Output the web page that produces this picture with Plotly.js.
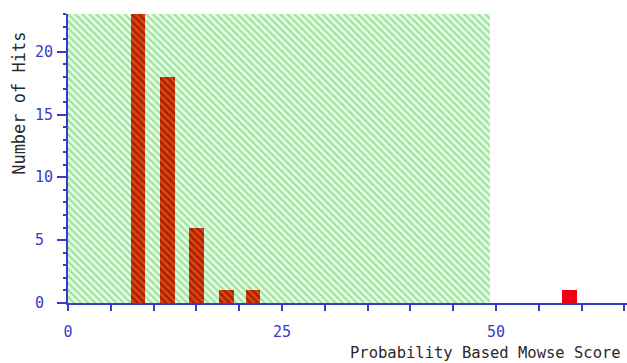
<!DOCTYPE html>
<html>
<head>
<meta charset="utf-8">
<script src="https://cdn.plot.ly/plotly-3.0.1.min.js"></script>
<style>html,body{margin:0;padding:0;background:#fff;}#chart{width:627px;height:363px;}</style>
</head>
<body>
<div id="chart"></div>
<script>
// Histogram of hits by score (bin centres)
const binCenters = [8.2, 11.6, 15.0, 18.5, 21.6];
const binCounts = [23, 18, 6, 1, 1];
const topHitScore = [58.6];
const topHitCount = [1];
const barWidth = 1.7;
// Shaded (non-significant) region: scores below threshold
const threshold = 49.3;
const regionHeight = 23;
const xTickVals = [0, 25, 50];
const yTickVals = [0, 5, 10, 15, 20];

const axisBlue = '#3a3acb';
const mono = 'DejaVu Sans Mono, monospace';

const traces = [
  {
    type: 'bar',
    x: [threshold / 2], y: [regionHeight], width: [threshold],
    marker: {color: '#e6fae6', line: {width: 0},
      pattern: {shape: '\\', fgcolor: '#9be69b', bgcolor: '#e8fae8', size: 5, solidity: 0.45}},
    hoverinfo: 'skip'
  },
  {
    type: 'bar',
    x: binCenters, y: binCounts, width: binCenters.map(() => barWidth),
    marker: {color: '#d83c0a', line: {width: 0},
      pattern: {shape: '\\', fgcolor: '#a02000', bgcolor: '#dd4410', size: 5, solidity: 0.45}}
  },
  {
    type: 'bar',
    x: topHitScore, y: topHitCount, width: [barWidth],
    marker: {color: '#f20012', line: {width: 0}}
  }
];

// y tick labels are left-aligned in the reference, so draw them as annotations on the y scale
const yLabelAnnots = yTickVals.map(v => ({
  text: String(v), xref: 'paper', yref: 'y', x: -0.0626, y: v,
  xanchor: 'left', yanchor: 'middle', showarrow: false,
  font: {family: mono, size: 15, color: axisBlue}
}));

const layout = {
  width: 627, height: 363,
  margin: {l: 68, r: 0, t: 14, b: 60},
  paper_bgcolor: '#ffffff', plot_bgcolor: '#ffffff',
  barmode: 'overlay', bargap: 0,
  showlegend: false,
  xaxis: {
    range: [0, 65.3], showgrid: false, zeroline: false,
    showline: true, linecolor: axisBlue, linewidth: 2,
    tickmode: 'array', tickvals: xTickVals, ticktext: xTickVals.map(String),
    ticks: 'outside', ticklen: 6, tickwidth: 2, tickcolor: axisBlue,
    minor: {dtick: 5, tick0: 0, ticks: 'outside', ticklen: 6, tickwidth: 2, tickcolor: axisBlue},
    ticklabelstandoff: 8,
    tickfont: {family: mono, size: 15, color: axisBlue}
  },
  yaxis: {
    range: [0, 23], showgrid: false, zeroline: false,
    showline: true, linecolor: axisBlue, linewidth: 2,
    tickmode: 'array', tickvals: yTickVals, showticklabels: false,
    ticks: 'outside', ticklen: 9, tickwidth: 2, tickcolor: axisBlue,
    minor: {dtick: 1, tick0: 0, ticks: 'outside', ticklen: 3, tickwidth: 2, tickcolor: axisBlue}
  },
  annotations: yLabelAnnots.concat([
    {text: 'Number of Hits', textangle: -90, xref: 'paper', yref: 'paper',
     x: -0.089, y: 0.69, xanchor: 'center', yanchor: 'middle', showarrow: false,
     font: {family: mono, size: 17, color: '#2a2a2a'}},
    {text: 'Probability Based Mowse Score', xref: 'paper', yref: 'paper',
     x: 0.993, y: -0.172, xanchor: 'right', yanchor: 'middle', showarrow: false,
     font: {family: mono, size: 15.5, color: '#2a2a2a'}}
  ])
};

Plotly.newPlot('chart', traces, layout, {staticPlot: true, displayModeBar: false});
</script>
</body>
</html>
